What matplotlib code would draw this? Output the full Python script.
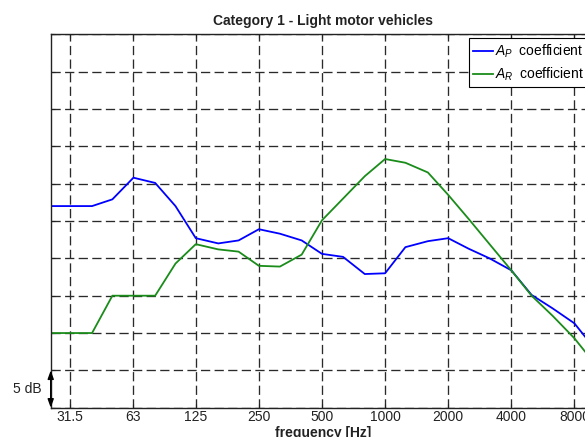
import numpy as np
import matplotlib
matplotlib.use("Agg")
import matplotlib.pyplot as plt
from matplotlib.ticker import FixedLocator, NullLocator, NullFormatter

plt.rcParams['font.family'] = ['Liberation Sans', 'DejaVu Sans']
plt.rcParams['mathtext.fontset'] = 'custom'
plt.rcParams['mathtext.rm'] = 'Liberation Sans'
plt.rcParams['mathtext.it'] = 'Liberation Sans:italic'

# one-third octave band centres [Hz]
bands_hz = [25, 31.5, 40, 50, 63, 80, 100, 125, 160, 200, 250, 315, 400,
            500, 630, 800, 1000, 1250, 1600, 2000, 2500, 3150, 4000, 5000,
            6300, 8000, 10000]

# spectrum shapes in dB (relative)
a_p = [27.0, 27.0, 27.0, 27.9, 30.8, 30.1, 27.0, 22.7, 22.0, 22.4, 23.9,
       23.3, 22.4, 20.6, 20.2, 17.9, 18.0, 21.5, 22.3, 22.7, 21.3, 20.0,
       18.4, 15.1, 13.3, 11.3, 7.9]
a_r = [10.0, 10.0, 10.0, 15.0, 15.0, 15.0, 19.3, 21.9, 21.2, 20.9, 19.0,
       18.9, 20.5, 25.1, 28.0, 31.0, 33.3, 32.8, 31.5, 28.5, 25.3, 21.9,
       18.4, 15.0, 12.3, 9.3, 5.9]

octave_ticks = [31.5, 63, 125, 250, 500, 1000, 2000, 4000, 8000]
octave_labels = ['31.5', '63', '125', '250', '500', '1000', '2000', '4000', '8000']

fig = plt.figure(figsize=(5.85, 4.37), dpi=100)
ax = fig.add_axes([0.0867, 0.067, 0.9299, 0.8545])

ax.plot(bands_hz, a_p, color='#0000ff', lw=1.3, label='$A_P\\;$ coefficient')
ax.plot(bands_hz, a_r, color='#1a8c1a', lw=1.3, label='$A_R\\;$ coefficient')

ax.set_xscale('log')
ax.set_xlim(25.4, 10000)
ax.set_ylim(0, 50)
ax.xaxis.set_major_locator(FixedLocator(octave_ticks))
ax.set_xticklabels(octave_labels)
ax.xaxis.set_minor_locator(NullLocator())
ax.xaxis.set_minor_formatter(NullFormatter())
ax.set_yticks(np.arange(0, 51, 5))
ax.set_yticklabels([])
ax.tick_params(direction='in', length=3, width=0.8, labelsize=10,
               top=True, right=True, pad=2, colors='#222222')

ax.grid(True, color='#2a2a2a', lw=0.95, linestyle=(0, (7.0, 3.3)))
for s in ax.spines.values():
    s.set_color('#222222')
    s.set_linewidth(1.0)

ax.set_title('Category 1 - Light motor vehicles', fontsize=10,
             fontweight='bold', pad=7, color='#222222')
ax.set_xlabel('frequency [Hz]', fontsize=10, fontweight='bold',
              labelpad=1, color='#222222')

# 5 dB scale marker on the left axis
trans = ax.get_yaxis_transform()
ax.annotate('', xy=(0, 0), xytext=(0, 5), xycoords=trans, textcoords=trans,
            arrowprops=dict(arrowstyle='<|-|>,head_length=0.5,head_width=0.18',
                            color='black', lw=1.0, shrinkA=0, shrinkB=0),
            annotation_clip=False)
ax.text(-0.0165, 2.5, '5 dB', transform=trans, ha='right', va='center',
        fontsize=10, color='#222222', clip_on=False)

leg = ax.legend(loc='upper left', bbox_to_anchor=(0.769, 0.989),
                borderaxespad=0, fontsize=10, handlelength=1.45,
                handletextpad=0.15, borderpad=0.3, labelspacing=0.4,
                fancybox=False, framealpha=1, edgecolor='black')
leg.get_frame().set_linewidth(0.8)

fig.savefig('out.png', dpi=100)
